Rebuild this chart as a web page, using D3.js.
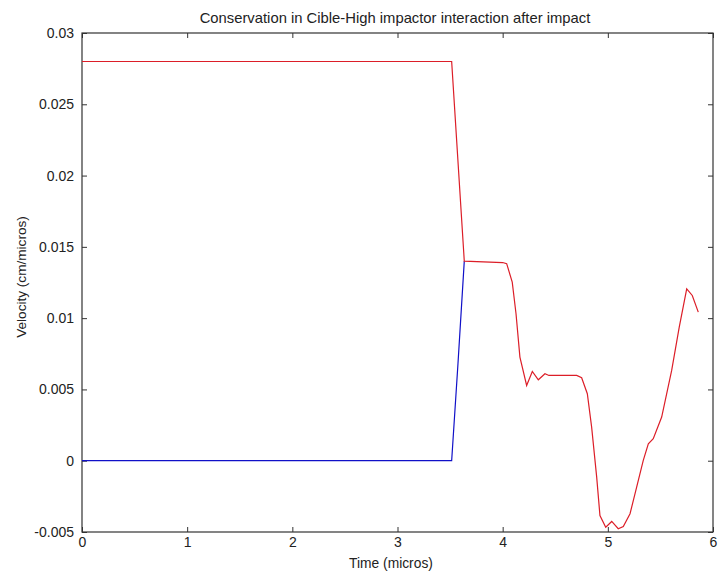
<!DOCTYPE html>
<html>
<head>
<meta charset="utf-8">
<script src="https://cdn.jsdelivr.net/npm/d3@7"></script>
<style>
  body { margin: 0; background: #fff; }
  text { font-family: "Liberation Sans", Arial, sans-serif; fill: #222; }
</style>
</head>
<body>
<div id="chart"></div>
<script>
// time (micros) and velocity (cm/micros)
const redTime = [0, 3.515, 3.635, 4.0, 4.038, 4.091, 4.127, 4.164, 4.228, 4.282, 4.339, 4.402, 4.44,
  4.704, 4.751, 4.805, 4.846, 4.894, 4.925, 4.98, 5.037, 5.099, 5.147, 5.211, 5.274, 5.337,
  5.385, 5.432, 5.512, 5.607, 5.679, 5.75, 5.803, 5.86];
const redVel = [0.028, 0.028, 0.014, 0.0139, 0.01382, 0.01253, 0.01031, 0.00727, 0.00528, 0.00626, 0.00568, 0.0061, 0.00598,
  0.00598, 0.00582, 0.0047, 0.00236, -0.00115, -0.00384, -0.00466, -0.00426, -0.00477, -0.00461, -0.00372, -0.00185, 0.00002,
  0.00119, 0.00154, 0.00306, 0.00633, 0.00937, 0.01206, 0.01159, 0.01042];
const blueTime = [0, 3.515, 3.575, 3.635];
const blueVel = [0, 0, 0.0068, 0.014];

const xTicks = [0, 1, 2, 3, 4, 5, 6];
const yTicks = [-0.005, 0, 0.005, 0.01, 0.015, 0.02, 0.025, 0.03];

const width = 719, height = 575;
const margin = { top: 33, right: 6, bottom: 43, left: 82 };

const svg = d3.select("#chart").append("svg")
    .attr("width", width)
    .attr("height", height);

const x = d3.scaleLinear().domain([0, 6]).range([margin.left, width - margin.right]);
const y = d3.scaleLinear().domain([-0.005, 0.03]).range([height - margin.bottom, margin.top]);

const fmt = d => d === 0 ? "0" : String(+d.toFixed(3));

function styleAxis(g) {
    g.select(".domain").remove();
    g.selectAll("line").attr("stroke", "#333");
    g.selectAll("text").style("font-size", "14px").attr("fill", "#222");
}

// bottom / top axes, ticks inward
svg.append("g")
    .attr("transform", `translate(0,${y.range()[0]})`)
    .call(d3.axisBottom(x).tickValues(xTicks).tickSize(-5).tickPadding(5).tickFormat(d3.format("d")))
    .call(styleAxis);
svg.append("g")
    .attr("transform", `translate(0,${y.range()[1]})`)
    .call(d3.axisTop(x).tickValues(xTicks).tickSize(-5).tickFormat(""))
    .call(styleAxis);
svg.append("g")
    .attr("transform", `translate(${x.range()[0]},0)`)
    .call(d3.axisLeft(y).tickValues(yTicks).tickSize(-5).tickPadding(8).tickFormat(fmt))
    .call(styleAxis);
svg.append("g")
    .attr("transform", `translate(${x.range()[1]},0)`)
    .call(d3.axisRight(y).tickValues(yTicks).tickSize(-5).tickFormat(""))
    .call(styleAxis);

// frame
svg.append("rect")
    .attr("x", x.range()[0]).attr("y", y.range()[1])
    .attr("width", x.range()[1] - x.range()[0])
    .attr("height", y.range()[0] - y.range()[1])
    .attr("fill", "none").attr("stroke", "#333").attr("stroke-width", 1.2);

const line = d3.line().x(d => x(d[0])).y(d => y(d[1]));

svg.append("path")
    .datum(blueTime.map((t, i) => [t, blueVel[i]]))
    .attr("d", line).attr("fill", "none").attr("stroke", "#1010c8").attr("stroke-width", 1.2);
svg.append("path")
    .datum(redTime.map((t, i) => [t, redVel[i]]))
    .attr("d", line).attr("fill", "none").attr("stroke", "#dc1e28").attr("stroke-width", 1.2);

svg.append("text")
    .attr("x", 395).attr("y", 23)
    .attr("text-anchor", "middle").style("font-size", "14.8px")
    .text("Conservation in Cible-High impactor interaction after impact");

svg.append("text")
    .attr("x", 391).attr("y", 568)
    .attr("text-anchor", "middle").style("font-size", "13.8px")
    .text("Time (micros)");

svg.append("text")
    .attr("transform", `translate(26,277) rotate(-90)`)
    .attr("text-anchor", "middle").style("font-size", "13.6px")
    .text("Velocity (cm/micros)");
</script>
</body>
</html>
